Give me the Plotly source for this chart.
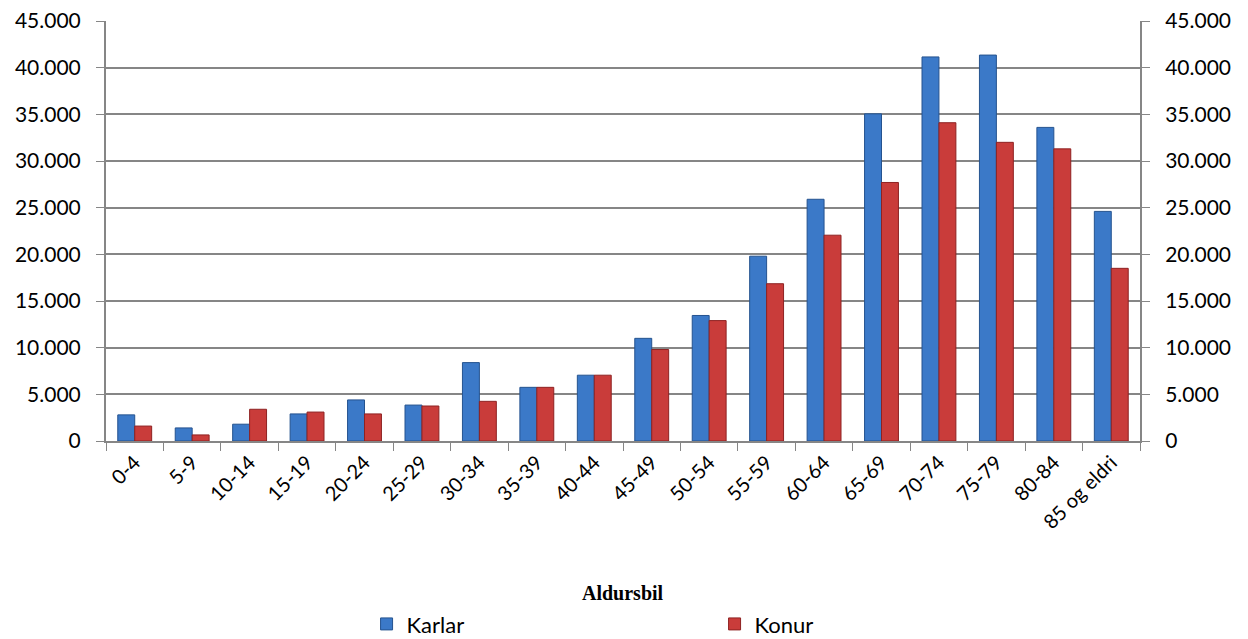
import plotly.graph_objects as go

age_groups = ["0-4", "5-9", "10-14", "15-19", "20-24", "25-29", "30-34", "35-39",
              "40-44", "45-49", "50-54", "55-59", "60-64", "65-69", "70-74",
              "75-79", "80-84", "85 og eldri"]
karlar = [2800, 1400, 1800, 2900, 4400, 3850, 8400, 5750, 7050, 11000, 13450,
          19800, 25900, 35050, 41150, 41350, 33600, 24600]
konur = [1600, 650, 3400, 3100, 2900, 3750, 4250, 5750, 7050, 9800, 12900,
         16850, 22050, 27700, 34100, 32000, 31300, 18500]
y_ticks = list(range(0, 45001, 5000))

font_main = "Lato, Open Sans, sans-serif"

fig = go.Figure()

fig.add_trace(
    go.Bar(
        x=age_groups,
        y=karlar,
        name="Karlar",
        marker=dict(color="#3b79c8", line=dict(color="#25538f", width=1))
    )
)
fig.add_trace(
    go.Bar(
        x=age_groups,
        y=konur,
        name="Konur",
        marker=dict(color="#c93c3a", line=dict(color="#8e2222", width=1))
    )
)
# invisible trace so the right axis gets drawn
fig.add_trace(
    go.Scatter(x=[age_groups[0]], y=[0], yaxis="y2", mode="markers",
               marker=dict(opacity=0), showlegend=False, hoverinfo="skip")
)

axis_common = dict(
    range=[0, 45000],
    tickvals=y_ticks,
    tickformat=",d",
    ticks="outside",
    ticklen=8,
    tickcolor="#868686",
    ticklabelstandoff=11,
    showline=True,
    linecolor="#868686",
    linewidth=2,
    tickfont=dict(family=font_main, size=21, color="#000000"),
    ticklabeloverflow="allow",
    zeroline=False,
    automargin=False,
)

fig.update_layout(
    width=1240,
    height=631,
    margin=dict(l=98, r=108, t=13, b=198, autoexpand=False),
    plot_bgcolor="white",
    paper_bgcolor="white",
    separators=",.",
    barmode="group",
    bargap=0.41,
    bargroupgap=0,
    xaxis=dict(
        range=[-0.5, len(age_groups) - 0.5],
        tickangle=-45,
        tickson="boundaries",
        ticks="outside",
        ticklen=8,
        tickcolor="#868686",
        showline=True,
        linecolor="#868686",
        linewidth=2,
        tickfont=dict(family=font_main, size=20, color="#000000"),
        showgrid=False,
        automargin=False,
    ),
    yaxis=dict(**axis_common, showgrid=True, gridcolor="#868686", gridwidth=2),
    yaxis2=dict(**axis_common, overlaying="y", side="right", showgrid=False),
    legend=dict(
        orientation="h",
        x=0.252,
        y=-0.436,
        xanchor="left",
        yanchor="middle",
        entrywidth=303,
        font=dict(family=font_main, size=22, color="#000000"),
    ),
    annotations=[
        dict(
            text="<b>Aldursbil</b>",
            x=0.5, y=-0.362,
            xref="paper", yref="paper",
            xanchor="center", yanchor="middle",
            showarrow=False,
            font=dict(family="Liberation Serif, Times New Roman, serif",
                      size=20, color="#000000"),
        )
    ],
)

fig.write_html("out.html")
